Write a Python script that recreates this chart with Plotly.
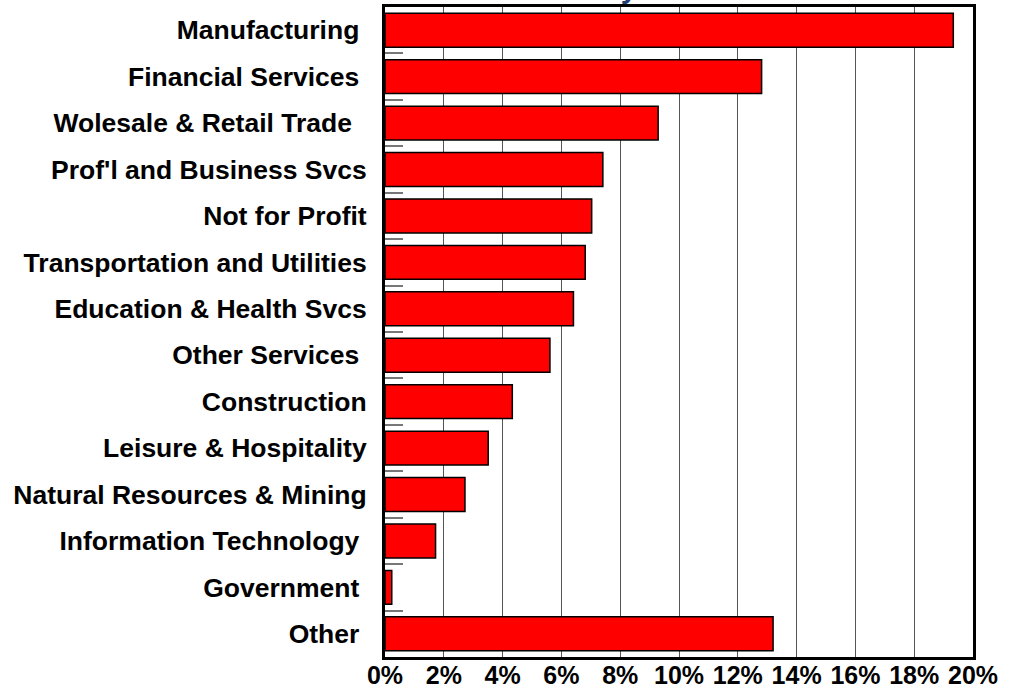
import plotly.graph_objects as go

# Share of total by industry (top to bottom)
industries = [
    "Manufacturing\u00a0",
    "Financial Services\u00a0",
    "Wolesale & Retail Trade\u00a0\u00a0",
    "Prof'l and Business Svcs",
    "Not for Profit",
    "Transportation and Utilities",
    "Education & Health Svcs",
    "Other Services\u00a0",
    "Construction",
    "Leisure & Hospitality",
    "Natural Resources & Mining",
    "Information Technology\u00a0",
    "Government\u00a0",
    "Other\u00a0",
]
shares = [0.1933, 0.1281, 0.0929, 0.0741, 0.0703, 0.0681, 0.0641,
          0.0561, 0.0433, 0.0351, 0.0272, 0.0172, 0.0023, 0.1320]

x_ticks = [0, 0.02, 0.04, 0.06, 0.08, 0.10, 0.12, 0.14, 0.16, 0.18, 0.20]
x_tick_labels = ["0%", "2%", "4%", "6%", "8%", "10%", "12%", "14%", "16%", "18%", "20%"]

title_text = "Sales Diversity"

fig = go.Figure(
    go.Bar(
        x=shares,
        y=industries,
        orientation="h",
        marker=dict(color="#FF0000", line=dict(color="#000000", width=1.5)),
        hoverinfo="x+y",
    )
)

label_font = dict(family="Liberation Sans, Arial, sans-serif", size=26.5,
                  color="#000000", weight="bold")

fig.update_layout(
    width=1018,
    height=692,
    margin=dict(l=385, r=45, t=7, b=35),
    paper_bgcolor="#FFFFFF",
    plot_bgcolor="#FFFFFF",
    bargap=0.27,
    showlegend=False,
    xaxis=dict(
        range=[0, 0.20],
        tickvals=x_ticks,
        ticktext=x_tick_labels,
        showgrid=True,
        gridcolor="#555555",
        gridwidth=1,
        zeroline=False,
        showline=True,
        linecolor="#000000",
        linewidth=3,
        mirror=True,
        ticks="",
        tickfont=dict(label_font, size=25),
        ticklabelstandoff=-6,
        automargin=False,
        fixedrange=True,
    ),
    yaxis=dict(
        categoryorder="array",
        categoryarray=industries,
        autorange="reversed",
        showgrid=False,
        zeroline=False,
        showline=True,
        linecolor="#000000",
        linewidth=3,
        mirror=True,
        ticks="inside",
        tickson="boundaries",
        ticklen=18,
        tickwidth=1.5,
        tickcolor="#777777",
        tickfont=label_font,
        ticklabelstandoff=10,
        automargin=False,
        fixedrange=True,
    ),
    annotations=[
        dict(
            text=title_text,
            xref="paper", yref="paper",
            x=(640 - 385) / 588, y=1 + 1 / 651,
            xanchor="right", yanchor="bottom",
            showarrow=False,
            font=dict(family="Liberation Sans, Arial, sans-serif", size=30,
                      color="#1F3F75", weight="bold"),
        )
    ],
)

fig.write_html("out.html")
